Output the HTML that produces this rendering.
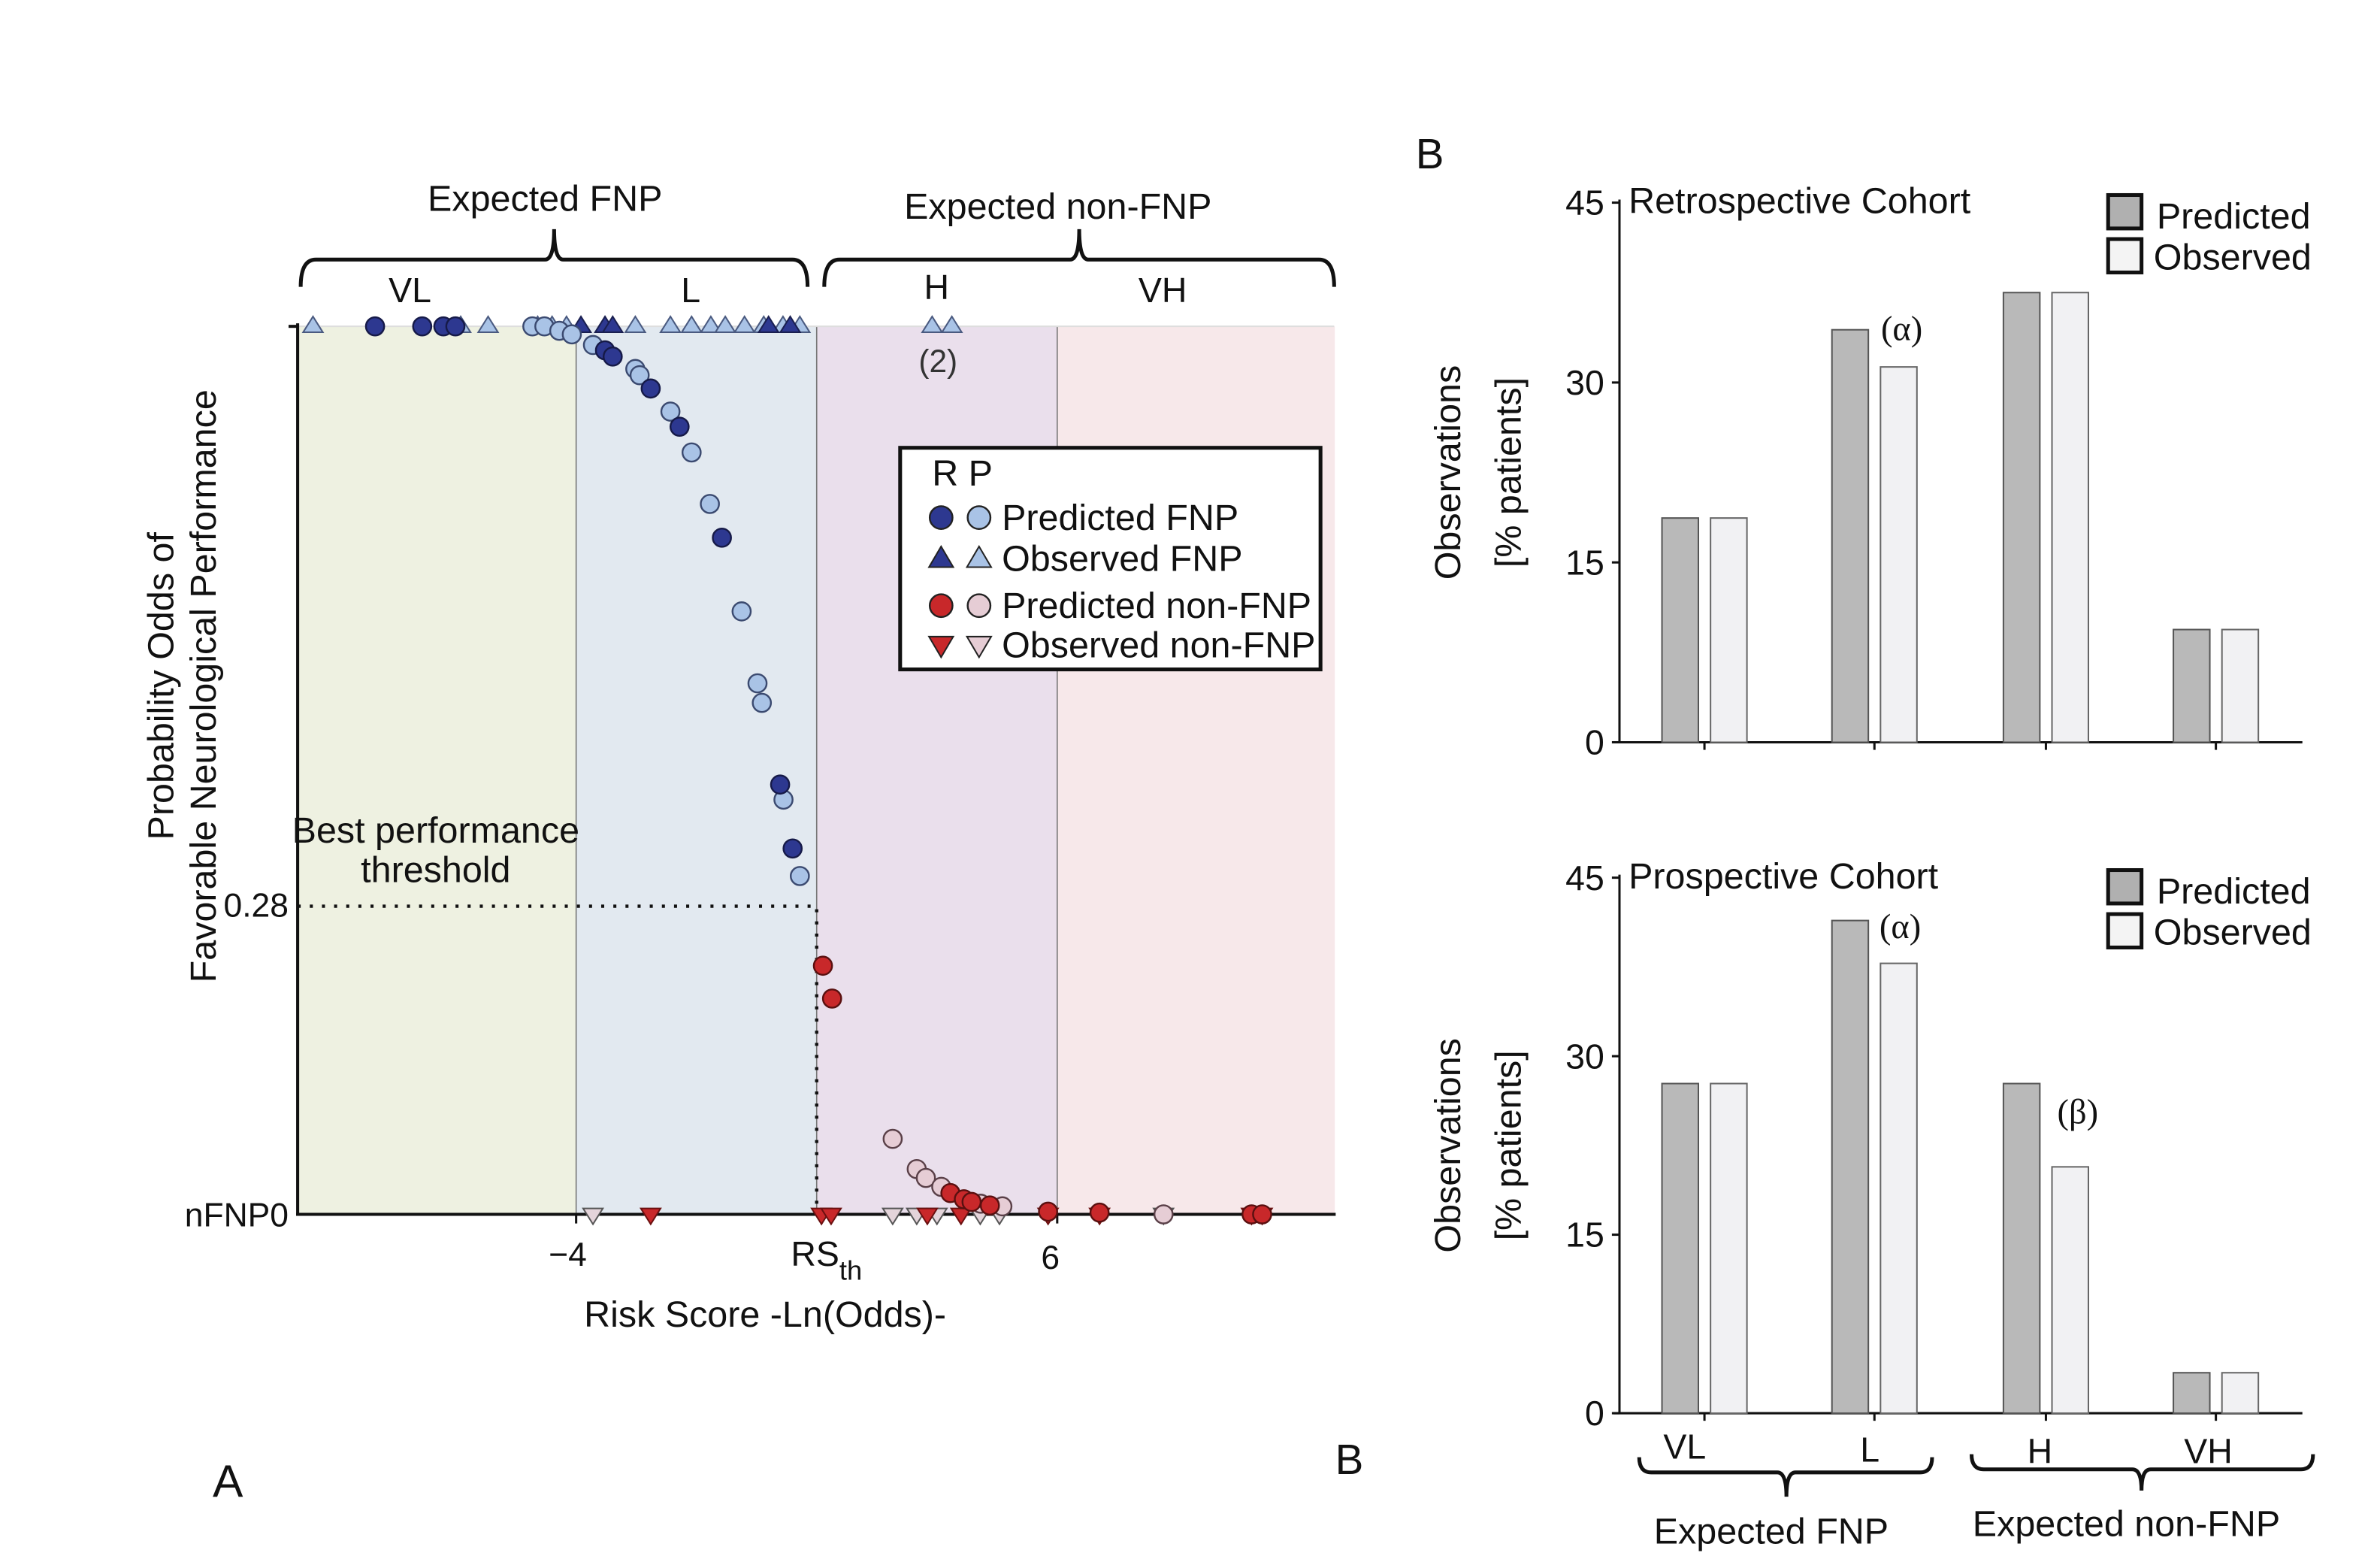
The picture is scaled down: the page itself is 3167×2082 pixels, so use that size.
<!DOCTYPE html>
<html><head><meta charset="utf-8"><style>
html,body{margin:0;padding:0;background:#fff}
svg{display:block}
text{font-family:"Liberation Sans",sans-serif;fill:#111}
</style></head><body>
<svg id="fig" width="3167" height="2082" viewBox="0 0 1568 1031" xmlns="http://www.w3.org/2000/svg">
<rect width="1568" height="1031" fill="#fff"/>
<g id="panelA"></g>
<g id="panelB"></g>
</svg>
<script>
// ===== Panel A data =====
const regionNames = ["VL","L","H","VH"];
const regionBounds = [-9.77, -4, 1, 6, 11.77];
const darkCircX = [-8.18,-7.20,-6.76,-6.51,-3.40,-3.24,-2.45,-1.85,-0.97,0.24,0.50];
const darkCircY = [1,1,1,1,0.973,0.966,0.930,0.887,0.762,0.484,0.412];
const lightCircX = [-4.91,-4.66,-4.35,-4.09,-3.65,-2.77,-2.68,-2.04,-1.60,-1.22,-0.56,-0.23,-0.14,0.31,0.65];
const lightCircY = [1,1,0.995,0.991,0.979,0.952,0.945,0.904,0.858,0.8,0.679,0.598,0.576,0.467,0.381];
const redCircX = [1.13,1.32,3.78,4.06,4.22,4.60,5.81,6.88,10.04,10.26];
const redCircY = [0.28,0.243,0.024,0.017,0.014,0.010,0.003,0.002,0,0];
const pinkCircX = [2.58,3.08,3.27,3.59,4.41,4.86,8.21];
const pinkCircY = [0.085,0.051,0.041,0.031,0.012,0.009,0];
const upLightX = [-9.47,-6.4,-5.83,-4.8,-4.5,-4.2,-2.77,-2.04,-1.60,-1.2,-0.9,-0.5,-0.1,0.3,0.65,3.40,3.81];
const upDarkX = [-3.9,-3.4,-3.24,0.0,0.45];
const downLightX = [-3.65,2.58,3.08,3.5,4.4,4.8,8.21];
const downRedX = [-2.45,1.1,1.3,3.3,4.0,5.81,6.88,10.04,10.26];
const thresholdY = 0.347;
// ===== Panel B data =====
const barCats = ["VL","L","H","VH"];
const retroPred = [18.7,34.4,37.5,9.4];
const retroObs = [18.7,31.3,37.5,9.4];
const prosPred = [27.7,41.4,27.7,3.4];
const prosObs = [27.7,37.8,20.7,3.4];
const barTicks = [0,15,30,45];

const NS="http://www.w3.org/2000/svg";
function mk(tag, attrs, parent){const e=document.createElementNS(NS,tag);for(const k in attrs)e.setAttribute(k,attrs[k]);parent.appendChild(e);return e;}
function txt(parent,x,y,s,size,anchor,extra){const t=mk("text",Object.assign({x:x,y:y,"font-size":size,"text-anchor":anchor||"start"},extra||{}),parent);t.textContent=s;return t;}

// ---- Panel A ----
const A=document.getElementById("panelA");
const xA=v=>538+(v-1)*31.7;
const yA=v=>800-v*585;
const bgCols=["#eef1e1","#e2e9f0","#eadfec","#f7e8ea"];
for(let i=0;i<4;i++){
  const r=mk("rect",{x:xA(regionBounds[i]),y:215,width:xA(regionBounds[i+1])-xA(regionBounds[i]),height:585,fill:bgCols[i]},A);
  
  
}
[-4,1,6].forEach(v=>mk("line",{x1:xA(v),y1:215,x2:xA(v),y2:800,stroke:"#777","stroke-width":0.8},A));
mk("line",{x1:196,y1:215,x2:879,y2:215,stroke:"#ddd","stroke-width":1},A);
const ax=mk("g",{},A);
mk("line",{x1:196,y1:213,x2:196,y2:801,stroke:"#111","stroke-width":2},ax);
mk("line",{x1:190,y1:215,x2:196,y2:215,stroke:"#111","stroke-width":2},ax);
mk("line",{x1:195,y1:800,x2:880,y2:800,stroke:"#111","stroke-width":2},ax);
[-4,6].forEach(v=>mk("line",{x1:xA(v),y1:800,x2:xA(v),y2:806,stroke:"#111","stroke-width":1.5},ax));
const th=mk("path",{d:`M196 ${yA(thresholdY)} H${xA(1)} V800`,fill:"none",stroke:"#111","stroke-width":2.2,"stroke-dasharray":"2 6"},A);

txt(A,287,555,"Best performance",24,"middle");
txt(A,287,581,"threshold",24,"middle");
txt(A,190,604,"0.28",22,"end");
txt(A,190,808,"nFNP0",22,"end");
txt(A,374,834,"\u22124",22,"middle");
const rs=txt(A,521,834,"RS",23,"start");const ts=mk("tspan",{dy:9,"font-size":18},rs);ts.textContent="th";
txt(A,692,836,"6",22,"middle");
txt(A,504,874,"Risk Score -Ln(Odds)-",24,"middle");
txt(A,0,0,"Probability Odds of",24,"middle",{transform:"translate(114,452) rotate(-90)"});
txt(A,0,0,"Favorable Neurological Performance",24,"middle",{transform:"translate(142,452) rotate(-90)"});
function brace(p,x1,x2,xt,yb,ytip){mk("path",{d:`M${x1} ${yb+18} Q${x1} ${yb} ${x1+10} ${yb} H${xt-6} Q${xt} ${yb} ${xt} ${ytip} Q${xt} ${yb} ${xt+6} ${yb} H${x2-10} Q${x2} ${yb} ${x2} ${yb+18}`,fill:"none",stroke:"#111","stroke-width":2.5},p);}
brace(A,198,532,365,171,151);brace(A,543,879,711,171,151);
txt(A,359,139,"Expected FNP",24,"middle");
txt(A,697,144,"Expected non-FNP",24,"middle");
txt(A,270,199,"VL",23,"middle");txt(A,455,199,"L",23,"middle");txt(A,617,197,"H",23,"middle");txt(A,766,199,"VH",23,"middle");
txt(A,618,245,"(2)",21,"middle",{style:"fill:#333"});
function tri(x,y,up,fill,stroke){const s=6.5;const d=up?`M${x} ${y-s} L${x+s} ${y+s*0.6} L${x-s} ${y+s*0.6}Z`:`M${x} ${y+s} L${x+s} ${y-s*0.6} L${x-s} ${y-s*0.6}Z`;return mk("path",{d:d,fill:fill,stroke:stroke,"stroke-width":1},A);}
upLightX.forEach(v=>{const e=tri(xA(v),yA(1),true,"#a9c3e6","#4a5a80");});
upDarkX.forEach(v=>{const e=tri(xA(v),yA(1),true,"#2d3890","#1a1f50");});
downLightX.forEach(v=>{const e=tri(xA(v),yA(0),false,"#e4d4da","#555");});
downRedX.forEach(v=>{const e=tri(xA(v),yA(0),false,"#c8282a","#6a1010");});
function circ(xs,ys,fill,stroke,name){xs.forEach((v,i)=>{const c=mk("circle",{cx:xA(v),cy:yA(ys[i]),r:6,fill:fill,stroke:stroke,"stroke-width":1.2},A);});}
circ(lightCircX,lightCircY,"#a9c3e6","#3b4a70","predicted-fnp-p");
circ(darkCircX,darkCircY,"#2d3890","#161a48","predicted-fnp-r");
circ(pinkCircX,pinkCircY,"#e6cdd5","#5a4048","predicted-nonfnp-p");
circ(redCircX,redCircY,"#c8282a","#5a1010","predicted-nonfnp-r");
const L=mk("g",{},A);
mk("rect",{x:593,y:295,width:277,height:146,fill:"#fff",stroke:"#111","stroke-width":2.5},L);
txt(L,614,320,"R P",24,"start");
const lrows=[["c","#2d3890","#a9c3e6","Predicted FNP",341],["u","#2d3890","#a9c3e6","Observed FNP",368],["c","#c8282a","#e6cdd5","Predicted non-FNP",399],["d","#c8282a","#e6cdd5","Observed non-FNP",425]];
lrows.forEach(r=>{const y=r[4];[[620,r[1]],[645,r[2]]].forEach(p=>{if(r[0]=="c")mk("circle",{cx:p[0],cy:y,r:7.5,fill:p[1],stroke:"#222","stroke-width":1.2},L);else{const s=8;const d=r[0]=="u"?`M${p[0]} ${y-s} L${p[0]+s} ${y+s*0.7} L${p[0]-s} ${y+s*0.7}Z`:`M${p[0]} ${y+s} L${p[0]+s} ${y-s*0.7} L${p[0]-s} ${y-s*0.7}Z`;mk("path",{d:d,fill:p[1],stroke:"#222","stroke-width":1},L);}});txt(L,660,y+8,r[3],24,"start");});
txt(A,150,986,"A",30,"middle");

// ---- Panel B ----
const B=document.getElementById("panelB");
const centers=[1123,1235,1348,1460];
function barChart(y0,ppu,pred,obs,title,name){
  const g=mk("g",{},B);
  const yB=v=>y0-v*ppu;
  mk("line",{x1:1067,y1:yB(45)-2,x2:1067,y2:y0,stroke:"#111","stroke-width":1.5},g);
  mk("line",{x1:1063,y1:y0,x2:1517,y2:y0,stroke:"#111","stroke-width":1.5},g);
  barTicks.forEach(t=>{mk("line",{x1:1062,y1:yB(t),x2:1067,y2:yB(t),stroke:"#111","stroke-width":1.5},g);txt(g,1057,yB(t)+8,String(t),23,"end");});
  centers.forEach(c=>mk("line",{x1:c,y1:y0,x2:c,y2:y0+5,stroke:"#111","stroke-width":1.5},g));
  barCats.forEach((c,i)=>{
    const p=mk("rect",{x:centers[i]-28,y:yB(pred[i]),width:24,height:pred[i]*ppu,fill:"#b9b9b9",stroke:"#555","stroke-width":1},g);
    
    const o=mk("rect",{x:centers[i]+4,y:yB(obs[i]),width:24,height:obs[i]*ppu,fill:"#f1f1f3",stroke:"#666","stroke-width":1},g);
    
  });
  txt(g,1073,yB(45)+7,title,24,"start");
  mk("rect",{x:1389,y:yB(45)-5,width:22,height:22,fill:"#b0b0b0",stroke:"#111","stroke-width":2.5},g);
  mk("rect",{x:1389,y:yB(45)+24,width:22,height:22,fill:"#f4f4f4",stroke:"#111","stroke-width":2.5},g);
  txt(g,1421,yB(45)+17,"Predicted",24,"start");
  txt(g,1419,yB(45)+44,"Observed",24,"start");
  txt(g,0,0,"Observations",24,"middle",{transform:`translate(962,${yB(22.5)}) rotate(-90)`});
  txt(g,0,0,"[% patients]",24,"middle",{transform:`translate(1002,${yB(22.5)}) rotate(-90)`});
  return yB;
}
barChart(489,118.5/15,retroPred,retroObs,"Retrospective Cohort","retrospective-chart");
barChart(931,117.6/15,prosPred,prosObs,"Prospective Cohort","prospective-chart");
txt(B,1253,224,"(\u03b1)",23,"middle",{style:"font-family:'Liberation Serif',serif"});
txt(B,1252,618,"(\u03b1)",23,"middle",{style:"font-family:'Liberation Serif',serif"});
txt(B,1369,740,"(\u03b2)",23,"middle",{style:"font-family:'Liberation Serif',serif"});
txt(B,942,111,"B",28,"middle");
txt(B,889,971,"B",28,"middle");
[["VL",1110,961],["L",1232,963],["H",1344,964],["VH",1455,964]].forEach(a=>txt(B,a[1],a[2],a[0],23,"middle"));
function braceUp(x1,x2,xt,yb,ytip){mk("path",{d:`M${x1} ${yb-10} Q${x1} ${yb} ${x1+8} ${yb} H${xt-6} Q${xt} ${yb} ${xt} ${ytip} Q${xt} ${yb} ${xt+6} ${yb} H${x2-8} Q${x2} ${yb} ${x2} ${yb-10}`,fill:"none",stroke:"#111","stroke-width":2.5},B);}
braceUp(1080,1273,1177,970,986);braceUp(1299,1524,1411,968,982);
txt(B,1167,1017,"Expected FNP",24,"middle");
txt(B,1401,1012,"Expected non-FNP",24,"middle");
</script>
</body></html>
